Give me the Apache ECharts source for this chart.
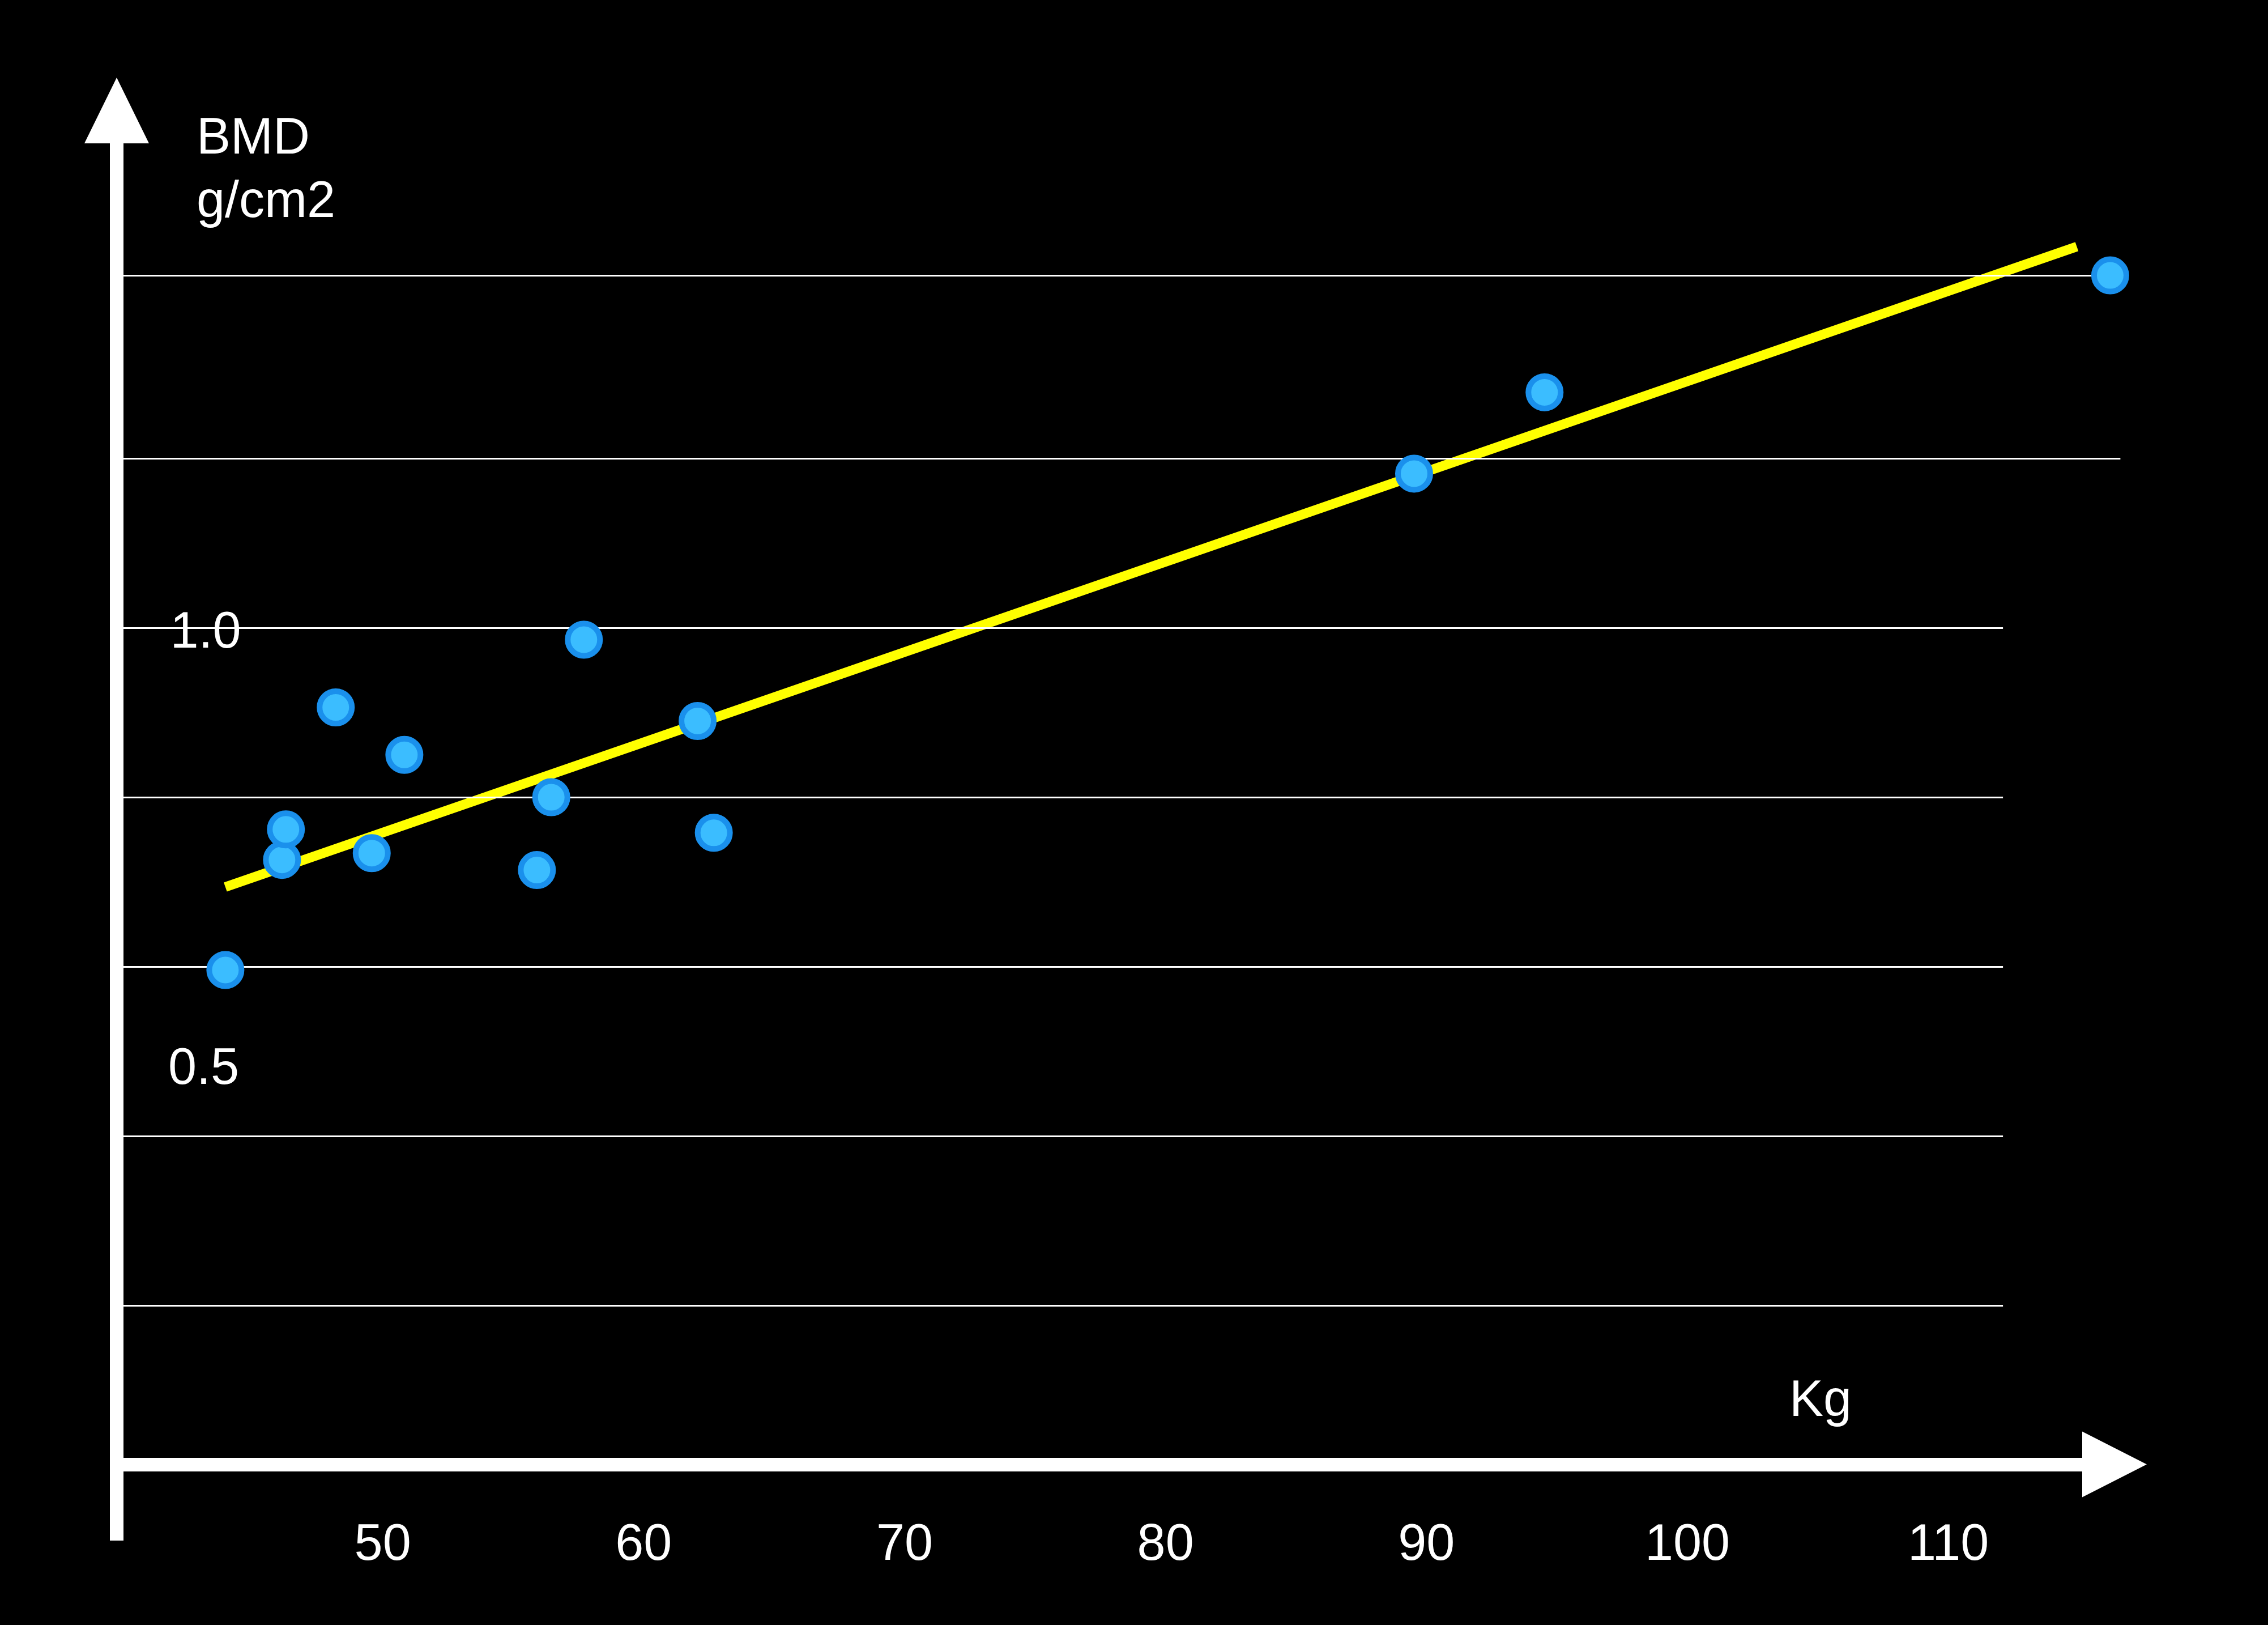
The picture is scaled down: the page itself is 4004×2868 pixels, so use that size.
<!DOCTYPE html>
<html>
<head>
<meta charset="utf-8">
<script src="https://cdn.jsdelivr.net/npm/echarts@6/dist/echarts.min.js"></script>
<style>
  html, body { margin: 0; padding: 0; background: #000; }
  #c { width: 4004px; height: 2868px; }
</style>
</head>
<body>
<div id="c"></div>
<script>
// ---- data ----
const weightKg = [43.97, 46.14, 46.29, 48.20, 49.58, 50.83, 55.91, 56.46, 57.71, 62.07, 62.69, 89.53, 94.53, 116.21];
const bmdValues = [0.798, 0.863, 0.881, 0.953, 0.867, 0.925, 0.857, 0.900, 0.993, 0.945, 0.879, 1.091, 1.139, 1.208];
const trendKg = [43.97, 114.93];
const trendBmd = [0.847, 1.225];
const xTickLabels = [50, 60, 70, 80, 90, 100, 110];
const yTickLabels = [1.0];
const gridLevels = [1.208, 1.1, 1.0, 0.9, 0.8, 0.7, 0.6];
const gridLevelEndKg = [116.6, 116.6, 112.1, 112.1, 112.1, 112.1, 112.1];
const yAxisTitle = 'BMD\ng/cm2';
const xAxisTitle = 'Kg';
const extraYLabel = '0.5';

const FONT = '"Liberation Sans", Arial, sans-serif';
const chart = echarts.init(document.getElementById('c'), null, { renderer: 'canvas' });

const option = {
  backgroundColor: '#000000',
  animation: false,
  grid: [
    { left: 215, right: 104, top: 360.5, bottom: 283.5 },   // data area
    { left: 215, right: 328, top: 2400, bottom: 283.5 },    // horizontal arrow axis
    { left: 206, width: 100, top: 253, bottom: 149 }        // vertical arrow axis
  ],
  xAxis: [
    { gridIndex: 0, type: 'value', min: 40, max: 120, show: false },
    {
      gridIndex: 1, type: 'value', min: 40, max: 115.13,
      axisLine: {
        show: true, onZero: false,
        lineStyle: { color: '#ffffff', width: 24, cap: 'butt' },
        symbol: ['none', 'triangle'], symbolSize: [116, 114], symbolOffset: [0, 57]
      },
      axisTick: { show: false },
      splitLine: { show: false },
      axisLabel: {
        customValues: xTickLabels,
        color: '#ffffff', fontSize: 90, fontFamily: FONT,
        margin: 144, verticalAlign: 'middle'
      }
    },
    { gridIndex: 2, type: 'value', min: 0, max: 1, show: false }
  ],
  yAxis: [
    {
      gridIndex: 0, type: 'value', min: 0.5062, max: 1.25,
      axisLine: { show: false }, axisTick: { show: false }, splitLine: { show: false },
      axisLabel: {
        customValues: yTickLabels,
        formatter: v => v.toFixed(1),
        color: '#ffffff', fontSize: 90, fontFamily: FONT,
        align: 'center', verticalAlign: 'top', lineHeight: 20, margin: -148
      }
    },
    { gridIndex: 1, type: 'value', min: 0, max: 1, show: false },
    {
      gridIndex: 2, type: 'value', min: 0, max: 1,
      axisLine: {
        show: true, onZero: false,
        lineStyle: { color: '#ffffff', width: 24, cap: 'butt' },
        symbol: ['none', 'triangle'], symbolSize: [114, 116], symbolOffset: [0, 58]
      },
      axisTick: { show: false }, axisLabel: { show: false }, splitLine: { show: false }
    }
  ],
  series: [
    {
      name: 'trend', type: 'line', xAxisIndex: 0, yAxisIndex: 0, z: 1,
      data: trendKg.map((x, i) => [x, trendBmd[i]]),
      symbol: 'none', showSymbol: false, silent: true,
      lineStyle: { color: '#FFFF00', width: 17, cap: 'butt' }
    },
    {
      name: 'gridlines', type: 'line', xAxisIndex: 0, yAxisIndex: 0, data: [],
      markLine: {
        silent: true, animation: false, z: 3,
        symbol: ['none', 'none'],
        label: { show: false },
        lineStyle: { color: '#ffffff', width: 3, type: 'solid' },
        data: gridLevels.map((v, i) => [{ coord: [40, v] }, { coord: [gridLevelEndKg[i], v] }])
      }
    },
    {
      name: 'BMD', type: 'scatter', xAxisIndex: 0, yAxisIndex: 0, z: 10,
      data: weightKg.map((x, i) => [x, bmdValues[i]]),
      symbol: 'circle', symbolSize: 57,
      itemStyle: { color: '#3BBDFF', borderColor: '#1A90EC', borderWidth: 10, opacity: 1 }
    }
  ],
  graphic: [
    {
      type: 'text', x: 347, y: 190, z: 20,
      style: { text: yAxisTitle, fill: '#ffffff', fontSize: 90, fontFamily: FONT,
               lineHeight: 112, align: 'left', verticalAlign: 'top' }
    },
    {
      type: 'text', x: 3159, y: 2474, z: 20,
      style: { text: xAxisTitle, fill: '#ffffff', fontSize: 90, fontFamily: FONT,
               align: 'left', verticalAlign: 'middle' }
    },
    {
      type: 'text', x: 359.5, y: 1888, z: 20,
      style: { text: extraYLabel, fill: '#ffffff', fontSize: 90, fontFamily: FONT,
               align: 'center', verticalAlign: 'middle' }
    }
  ]
};
chart.setOption(option);
</script>
</body>
</html>
